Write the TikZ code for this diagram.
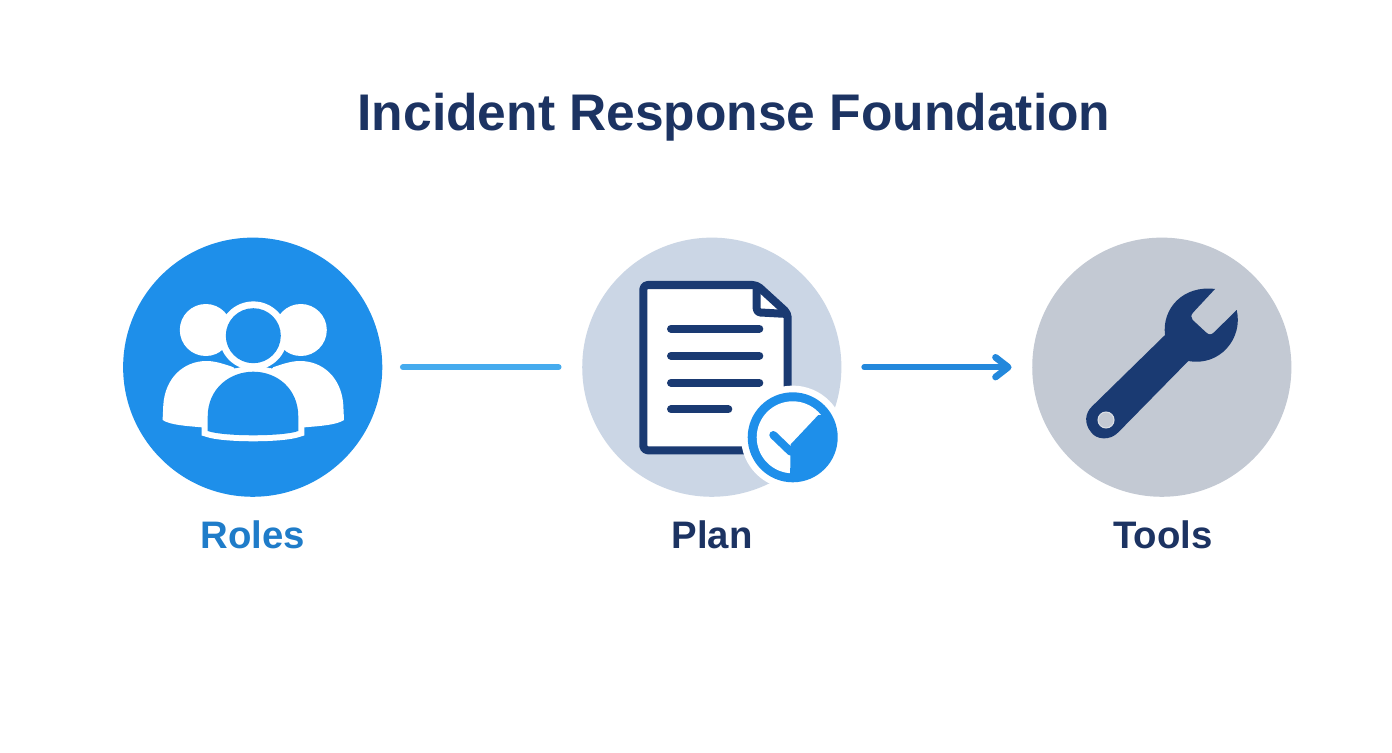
\documentclass[tikz,border=0pt]{standalone}
\usepackage{fontspec}
\setmainfont{Liberation Sans}
\usetikzlibrary{arrows.meta}

\definecolor{rolesblue}{HTML}{1E8FEA}
\definecolor{planfill}{HTML}{CBD6E5}
\definecolor{toolsfill}{HTML}{C3C9D3}
\definecolor{navy}{HTML}{1A3A72}
\definecolor{textnavy}{HTML}{1C3362}
\definecolor{rolestext}{HTML}{1F7CC9}
\definecolor{linklight}{HTML}{45ABEE}
\definecolor{linkdark}{HTML}{2388DC}

\tikzset{
  disc/.style={circle,minimum size=2.59cm,inner sep=0pt},
  caption/.style={anchor=base,font=\bfseries\fontsize{10.9pt}{12pt}\selectfont},
  docline/.style={navy,line width=0.08cm,line cap=round},
}

\begin{document}
\begin{tikzpicture}[x=0.01cm,y=-0.01cm]
\useasboundingbox (0,0) rectangle (1392,752);
\fill[white] (0,0) rectangle (1392,752);

% Title
\node[anchor=base,textnavy,font=\bfseries\fontsize{14.65pt}{16pt}\selectfont] (title) at (734,131) {Incident Response Foundation};

% Circles
\node[disc,fill=rolesblue] (roles) at (252.7,367.2) {};
\node[disc,fill=planfill] (plan) at (711.8,367.2) {};
\node[disc,fill=toolsfill] (tools) at (1161.8,367.2) {};

% Labels
\node[caption,rolestext] (roleslabel) at (253,548) {Roles};
\node[caption,textnavy] (planlabel) at (712,548) {Plan};
\node[caption,textnavy] (toolslabel) at (1163,548) {Tools};

% Lines
\draw[linklight,line width=0.06cm,line cap=round,shorten <=0.2cm,shorten >=0.23cm] (roles) -- (plan);
\draw[linkdark,line width=0.055cm,line cap=round,shorten <=0.22cm,shorten >=0.2cm,
  -{Straight Barb[length=3.6pt,width=5.6pt,line width=1.9pt,round]}] (plan) -- (tools);

% People
\foreach \s in {-1,1} {
  \fill[white] ({253.3+\s*47.5},330) circle (26);
  \fill[white] ({253.3+\s*90.7},420) -- ({253.3+\s*90},405)
    .. controls ({253.3+\s*88.3},378.3) and ({253.3+\s*70},361) .. ({253.3+\s*46.7},361)
    .. controls ({253.3+\s*36.7},361) and ({253.3+\s*26.7},365) .. ({253.3+\s*16.7},368.3)
    -- (253.3,411.7) -- ({253.3+\s*43.3},428.3) -- ({253.3+\s*51.7},427.3)
    .. controls ({253.3+\s*66.7},426) and ({253.3+\s*83.3},425) .. ({253.3+\s*90.7},420) -- cycle;
  \draw[rolesblue,line width=0.03cm] ({253.3+\s*32},351) -- ({253.3+\s*17.3},367.7);
}
\fill[white] (253.3,335.7) circle (34.3);
\fill[rolesblue] (253.3,335.7) circle (27.5);
\path[fill=rolesblue,preaction={draw=white,line width=0.12cm}] (207.7,431) -- (207.7,416.7)
  .. controls (207.7,388.3) and (230,371.7) .. (253.3,371.7)
  .. controls (276.7,371.7) and (298.3,388.3) .. (298.3,416.7) -- (298.3,431)
  .. controls (283.3,436.7) and (223.3,436.7) .. (207.7,431) -- cycle;

% Document
\draw[navy,fill=white,line width=0.08cm,line join=round,rounded corners=1.2pt] (643.3,285) -- (756.7,285) -- (787.7,313.3)
  -- (787.7,450.3) -- (643.3,450.3) -- cycle;
\draw[navy,line width=0.08cm,line join=round,rounded corners=1pt] (756.7,285) -- (756.7,312.3) -- (787.7,314);
\foreach \y in {328.7,355.7,382.7}
  \draw[docline] (671,\y) -- (759.3,\y);
\draw[docline] (671,409.3) -- (728.3,409.3);

% Badge
\fill[white] (792.7,437.3) circle (51.7);
\fill[rolesblue] (792.7,437.3) circle (45);
\fill[white] (792.7,437.3) circle (36);
\begin{scope}
  \clip (792.7,437.3) circle (40);
  \fill[rolesblue] (818.3,415) -- (790.7,444.3) -- (790,480) -- (840,480) -- (840,415) -- cycle;
\end{scope}
\draw[rolesblue,line width=0.08cm,line cap=round] (773.3,435) -- (790.7,451.7);

% Wrench
\fill[navy] (1165,335) .. controls (1161.7,308.3) and (1183.3,285) .. (1215,289)
  -- (1193.3,312.3) .. controls (1190.7,315) and (1190.7,317.7) .. (1192.7,320)
  -- (1206,332.3) .. controls (1208.7,335) and (1211.3,335) .. (1214,332.3)
  -- (1236.7,310) .. controls (1243.3,338.3) and (1220,366.7) .. (1188.3,361)
  -- (1118.3,432.3) .. controls (1110,441) and (1096,440) .. (1090.7,431.7)
  .. controls (1084,423.3) and (1085,413.3) .. (1091.7,406.7) -- cycle;
\draw[fill=toolsfill,draw=toolsfill!60!white,line width=0.3pt] (1106,420) circle (8);

\end{tikzpicture}
\end{document}
